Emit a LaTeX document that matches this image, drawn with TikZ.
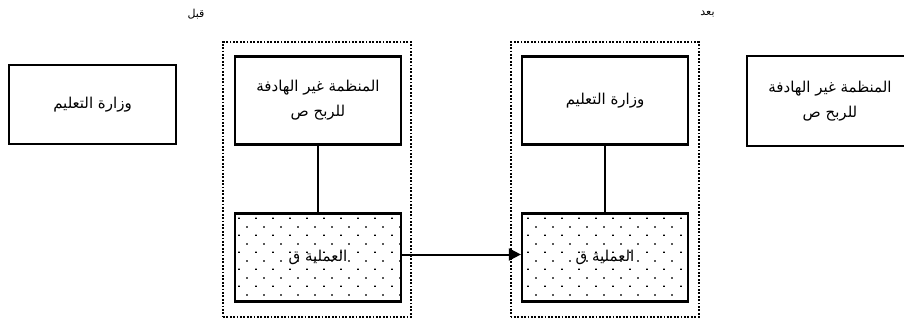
\documentclass[tikz,border=0pt]{standalone}
\usepackage{fontspec}
\usepackage{xcolor}
\usepackage{tikz}
\usetikzlibrary{math,arrows.meta,patterns}
\newfontfamily\arabicfont[Script=Arabic]{DejaVu Sans}
\TeXXeTstate=1
\pgfdeclarepatternformonly{sanddots}{\pgfpointorigin}{\pgfpoint{17pt}{16.8pt}}{\pgfpoint{17pt}{16.8pt}}{%
	\pgfpathrectangle{\pgfpoint{0pt}{0pt}}{\pgfpoint{2pt}{1.4pt}}%
	\pgfpathrectangle{\pgfpoint{8.5pt}{8.4pt}}{\pgfpoint{2pt}{1.4pt}}%
	\pgfusepath{fill}}

\begin{document}
\begin{tikzpicture}[x=1pt,y=-1pt,
	box/.style={draw,line width=2.2pt,minimum width=166pt,minimum height=88pt,inner sep=0pt,align=center,
		font=\arabicfont\fontsize{15}{25}\selectfont},
	proc/.style={box,pattern=sanddots},
	frame/.style={draw,line width=2pt,dash pattern=on 1.8pt off 1.6pt,minimum width=188pt,minimum height=275pt},
	link/.style={line width=2pt},
	tag/.style={font=\arabicfont\fontsize{11}{13}\selectfont}]
\useasboundingbox (0,0) rectangle (904,320);
\tikzmath{
	\ytop = 100.5;\ybot = 257.5;
	\xa = 318;\xb = 605;
	{\node[frame] (fa) at (317,179.5) {};};
	{\node[frame] (fb) at (604.5,179.5) {};};
	%
	{\node[box,minimum width=167pt,minimum height=79pt] (mina) at (92.5,104.5) {\beginR وزارة التعليم\endR};};
	{\node[box] (orga) at (\xa,\ytop) {\beginR المنظمة غير الهادفة\endR\\\beginR للربح ص\endR};};
	{\node[proc] (proca) at (\xa,\ybot) {\beginR العملية ق\endR};};
	%
	{\node[box] (minb) at (\xb,\ytop) {\beginR وزارة التعليم\endR};};
	{\node[proc] (procb) at (\xb,\ybot) {\beginR العملية ق\endR};};
	{\node[box,minimum height=90pt] (orgb) at (830,101) {\beginR المنظمة غير الهادفة\endR\\\beginR للربح ص\endR};};
	%
	{\path (fa.north west) ++(-26,-27) node[tag]{\beginR قبل\endR};};
	{\path (fb.north east) ++(8,-27) node[tag]{\beginR بعد\endR};};
	%
	{\draw[link] (orga) -- (proca);};
	{\draw[link] (minb) -- (procb);};
	{\draw[link,-{Triangle[length=12pt,width=12pt]}] ([yshift=3pt]proca.east) -- ([yshift=3pt]procb.west);};
};
\end{tikzpicture}
\end{document}
